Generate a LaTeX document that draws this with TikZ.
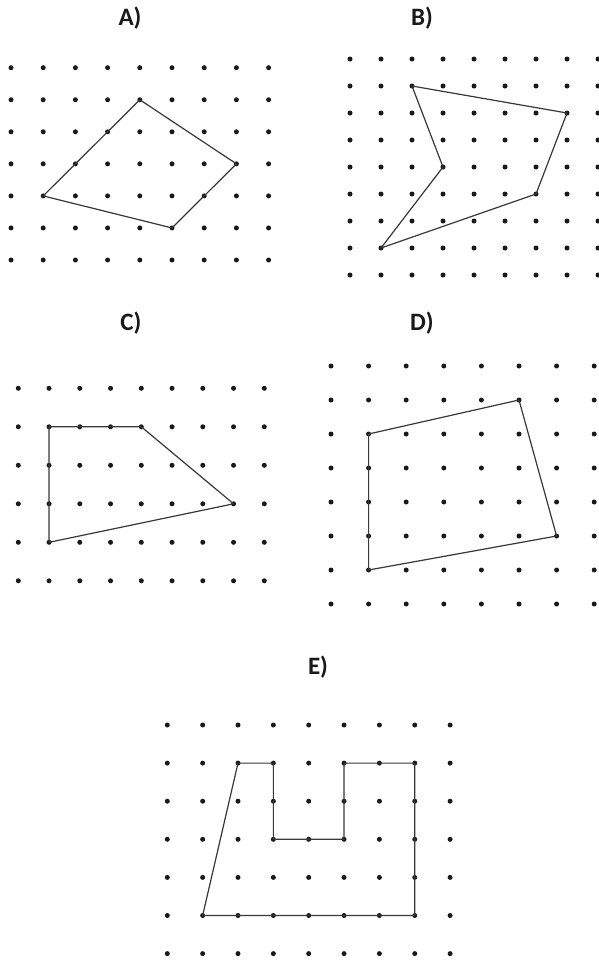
\documentclass[tikz,border=0pt]{standalone}
\usepackage{fontspec}
\setmainfont{Carlito}
\begin{document}
\begin{tikzpicture}[x=1pt,y=-1pt,
  gdot/.style={fill=black!90},
  edge/.style={draw=black!78,line width=1.2pt,line join=round},
  lbl/.style={font=\fontsize{25}{29}\selectfont\bfseries,text=black!90}]
\useasboundingbox (0,0) rectangle (599,962);
\fill[white] (0,0) rectangle (599,962);
\newcommand\dotgrid[2]{\foreach \i in {0,...,#1}{\foreach \j in {0,...,#2}{\fill[gdot] (\i,\j) circle (2.5pt);}}}

% labels
\node[lbl] (la) at (130,18) {A)};
\node[lbl] (lb) at (422,18) {B)};
\node[lbl] (lc) at (131,323) {C)};
\node[lbl] (ld) at (422,323) {D)};
\node[lbl] (le) at (318,667) {E)};

% A
\begin{scope}[shift={(11,67.7)},x=32.2pt,y=-32.05pt]
\dotgrid{8}{6}
\coordinate (a1) at (4,1); \coordinate (a2) at (7,3);
\coordinate (a3) at (5,5); \coordinate (a4) at (1,4);
\draw[edge] (a1)--(a2)--(a3)--(a4)--cycle;
\end{scope}

% B
\begin{scope}[shift={(350,59)},x=31pt,y=-27pt]
\dotgrid{8}{8}
\coordinate (b1) at (2,1); \coordinate (b2) at (7,2);
\coordinate (b3) at (6,5); \coordinate (b4) at (1,7);
\coordinate (b5) at (3,4);
\draw[edge] (b1)--(b2)--(b3)--(b4)--(b5)--cycle;
\end{scope}

% C
\begin{scope}[shift={(18.3,388.3)},x=30.75pt,y=-38.5pt]
\dotgrid{8}{5}
\coordinate (c1) at (1,1); \coordinate (c2) at (4,1);
\coordinate (c3) at (7,3); \coordinate (c4) at (1,4);
\draw[edge] (c1)--(c2)--(c3)--(c4)--cycle;
\end{scope}

% D
\begin{scope}[shift={(331,366)},x=37.6pt,y=-34pt]
\dotgrid{7}{7}
\coordinate (d1) at (1,2); \coordinate (d2) at (5,1);
\coordinate (d3) at (6,5); \coordinate (d4) at (1,6);
\draw[edge] (d1)--(d2)--(d3)--(d4)--cycle;
\end{scope}

% E
\begin{scope}[shift={(167.3,725)},x=35.35pt,y=-38.1pt]
\dotgrid{8}{6}
\coordinate (e1) at (2,1); \coordinate (e2) at (3,1);
\coordinate (e3) at (3,3); \coordinate (e4) at (5,3);
\coordinate (e5) at (5,1); \coordinate (e6) at (7,1);
\coordinate (e7) at (7,5); \coordinate (e8) at (1,5);
\draw[edge] (e1)--(e2)--(e3)--(e4)--(e5)--(e6)--(e7)--(e8)--cycle;
\end{scope}
\end{tikzpicture}
\end{document}
